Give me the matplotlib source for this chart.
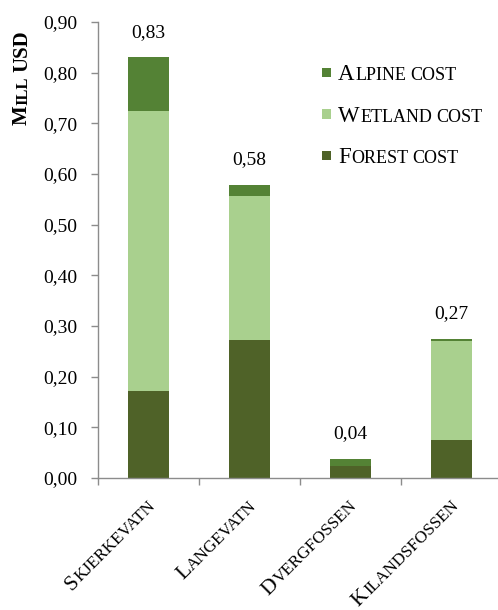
import math

import matplotlib
matplotlib.use("Agg")
import matplotlib.pyplot as plt
from matplotlib.font_manager import FontProperties
from matplotlib.patches import Rectangle
from matplotlib.ticker import FixedLocator, FuncFormatter
import numpy as np

sites = ["Skjerkevatn", "Langevatn", "Dvergfossen", "Kilandsfossen"]
forest_cost = [0.172, 0.273, 0.024, 0.075]
wetland_cost = [0.553, 0.283, 0.0, 0.196]
alpine_cost = [0.105, 0.022, 0.013, 0.003]
series_names = ["Alpine cost", "Wetland cost", "Forest cost"]

FOREST = "#4F6228"
WETLAND = "#A9D08E"
ALPINE = "#548235"
SPINE = "#8C8C8C"
SERIF = ["Liberation Serif", "DejaVu Serif"]

W_PX, H_PX = 498, 610
fig = plt.figure(figsize=(W_PX / 100, H_PX / 100), dpi=100)
ax = fig.add_axes([98 / W_PX, 1 - 478 / H_PX, 404 / W_PX, 456 / H_PX])

x = np.arange(len(sites))
forest = np.array(forest_cost)
wetland = np.array(wetland_cost)
alpine = np.array(alpine_cost)
totals = forest + wetland + alpine

bw = 0.4
ax.bar(x, forest, bw, color=FOREST, edgecolor="none")
ax.bar(x, wetland, bw, bottom=forest, color=WETLAND, edgecolor="none")
ax.bar(x, alpine, bw, bottom=forest + wetland, color=ALPINE, edgecolor="none")

for xi, t in zip(x, totals):
    ax.annotate(f"{t:.2f}".replace(".", ","), (xi, t), xytext=(0, 15),
                textcoords="offset points", ha="center", va="baseline",
                fontsize=14, family=SERIF)

ax.set_xlim(-0.5, 3.5)
ax.set_ylim(0, 0.9)
ax.set_yticks(np.arange(0, 0.91, 0.1))
ax.yaxis.set_major_formatter(FuncFormatter(lambda v, p: f"{v:.2f}".replace(".", ",")))
ax.tick_params(axis="y", direction="out", length=5, width=1, color=SPINE,
               pad=10, labelsize=14)
for lab in ax.get_yticklabels():
    lab.set_family(SERIF)

# category boundaries get the tick marks, names are drawn separately
ax.xaxis.set_major_locator(FixedLocator([-0.5, 0.5, 1.5, 2.5, 3.5]))
ax.tick_params(axis="x", direction="out", length=5, width=1, color=SPINE,
               labelbottom=False)

for side in ("top", "right"):
    ax.spines[side].set_visible(False)
for side in ("left", "bottom"):
    ax.spines[side].set_color(SPINE)
    ax.spines[side].set_linewidth(1)

renderer = fig.canvas.get_renderer()


def smallcaps(px, py, text, big, small, angle=0, ha="left", weight="normal"):
    """Write text in small caps starting (or ending) at pixel (px, py)."""
    runs = []
    for ch in text:
        size = big if (ch.isupper() or ch.isdigit()) else small
        if runs and runs[-1][1] == size and ch != " " and runs[-1][0] != " ":
            runs[-1][0] += ch.upper()
        else:
            runs.append([ch.upper(), size])
    widths = []
    for t, size in runs:
        if t == " ":
            widths.append(size * 100 / 72 * 0.2)
        else:
            prop = FontProperties(family=SERIF, size=size, weight=weight)
            w = renderer.get_text_width_height_descent(t, prop, ismath=False)[0]
            widths.append(w + 0.6)
    total = sum(widths)
    c, s = math.cos(math.radians(angle)), math.sin(math.radians(angle))
    if ha == "right":
        px, py = px - total * c, py - total * s
    elif ha == "center":
        px, py = px - total * c / 2, py - total * s / 2
    off = 0.0
    for (t, size), w in zip(runs, widths):
        if t != " ":
            fig.text((px + off * c) / W_PX, (py + off * s) / H_PX, t,
                     fontsize=size, family=SERIF, weight=weight,
                     rotation=angle, rotation_mode="anchor",
                     ha="left", va="baseline")
        off += w


# category names, rotated 45 degrees under the axis
for xi, name in zip(x, sites):
    cx, cy = ax.transData.transform((xi, 0))
    smallcaps(cx + 8, cy - 28, name, 15.5, 12.3, angle=45, ha="right")

# y axis title
smallcaps(27, H_PX - 125, "Mill USD", 15, 12, angle=90, weight="bold")

# legend
leg_colors = [ALPINE, WETLAND, FOREST]
for i, (name, col) in enumerate(zip(series_names, leg_colors)):
    base = 80 + 41.5 * i
    fig.add_artist(Rectangle((322 / W_PX, 1 - (base - 3) / H_PX),
                             9 / W_PX, 9 / H_PX, transform=fig.transFigure,
                             facecolor=col, edgecolor="none"))
    smallcaps(338, H_PX - base, name, 16.5, 13)

fig.savefig("out.png", dpi=100)
